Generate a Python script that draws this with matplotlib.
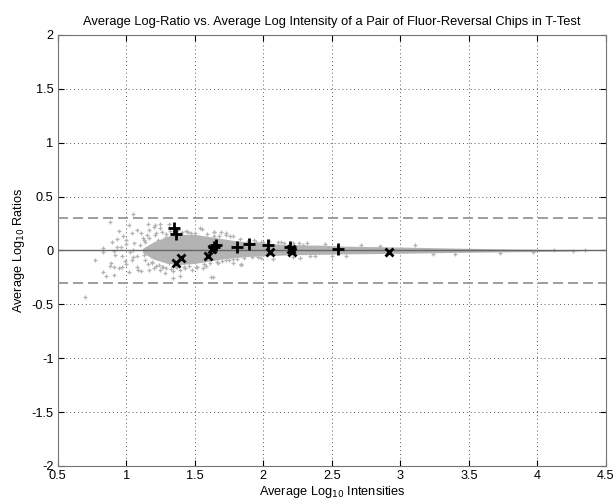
import matplotlib
matplotlib.use('Agg')
import matplotlib.pyplot as plt

plt.rcParams['font.family'] = ['Liberation Sans', 'DejaVu Sans']
plt.rcParams['font.size'] = 9.2

# dense core of the gray cloud (envelope)
core_x = [1.12, 1.20, 1.30, 1.40, 1.50, 1.60, 1.70, 1.80, 1.90, 2.00, 2.10, 2.20, 2.30,
          2.40, 2.50, 2.60, 2.80, 3.00, 3.20, 3.40, 3.60, 3.80, 4.00, 4.20, 4.32]
core_hi = [0.02, 0.08, 0.13, 0.15, 0.15, 0.13, 0.11, 0.09, 0.08, 0.07, 0.06, 0.055, 0.05,
           0.05, 0.045, 0.04, 0.036, 0.032, 0.027, 0.022, 0.018, 0.014, 0.011, 0.008, 0.003]
core_lo = [-0.02, -0.08, -0.12, -0.13, -0.12, -0.10, -0.08, -0.065, -0.055, -0.05, -0.045, -0.04, -0.038,
           -0.036, -0.034, -0.032, -0.029, -0.026, -0.022, -0.018, -0.015, -0.012, -0.01, -0.007, -0.003]

# scattered gray spots outside the core
spot_x = [1.05, 0.88, 1.02, 0.95, 1.04, 0.98, 0.90, 1.00, 0.83, 0.83, 0.93, 0.96, 0.91, 0.77,
          0.92, 0.89, 0.91, 0.88, 0.83, 0.85, 0.91, 0.95, 0.99, 1.00, 1.02, 1.04, 1.08, 1.09,
          1.11, 1.08, 1.05, 1.10, 1.13, 1.15, 1.20, 1.25, 1.31, 1.17, 1.22, 1.17, 1.20, 1.25,
          1.28, 1.16, 0.70, 1.08, 1.11, 1.06, 1.03, 0.97, 0.97, 1.14, 1.19, 1.24, 1.27, 1.34,
          1.39, 1.62, 1.34, 1.55, 1.64, 1.84, 1.78, 1.95, 2.11, 2.07, 1.21, 1.16, 1.25, 1.48,
          1.52, 1.56, 1.39, 1.67, 1.73, 1.69, 1.73, 1.64, 1.78, 1.88, 2.00, 2.22, 2.32, 1.78,
          1.98, 2.22, 1.54, 1.63, 1.84, 1.73, 1.76, 1.98, 1.64, 2.29, 3.11, 2.71, 2.27, 2.34,
          3.24, 3.73, 3.97, 4.26, 4.35, 4.12, 1.45, 1.50, 1.42, 1.58, 1.33, 1.36, 1.28, 1.31,
          2.45, 2.60, 2.85, 3.40, 2.90, 2.50, 2.15, 1.12, 1.18, 1.00, 1.05, 0.93,
          1.14, 1.17, 1.21, 1.23, 1.26, 1.29, 1.32, 1.35, 1.38, 1.41, 1.44, 1.47, 1.19, 1.22,
          1.26, 1.29, 1.33, 1.37, 1.43, 1.46, 1.51, 1.57, 1.61, 1.66, 1.70, 1.75, 1.81, 1.86,
          1.92, 1.96, 1.13, 1.18, 1.24, 1.30, 1.59, 1.68, 1.83, 1.93, 2.04, 2.13, 2.26, 2.38]
spot_y = [0.34, 0.26, 0.24, 0.18, 0.16, 0.135, 0.08, 0.10, 0.02, -0.01, 0.035, 0.03, -0.005, -0.09,
          -0.04, -0.12, -0.15, -0.145, -0.20, -0.235, -0.23, -0.165, -0.10, -0.13, -0.20, -0.09, -0.15, -0.18,
          -0.195, -0.055, 0.005, 0.05, 0.10, 0.145, 0.22, 0.245, 0.25, 0.19, 0.16, -0.18, -0.165, -0.18,
          -0.21, -0.125, -0.435, 0.19, 0.165, 0.065, -0.01, -0.055, -0.15, -0.09, -0.105, -0.135, -0.15, -0.195,
          -0.235, -0.25, -0.26, 0.20, 0.17, -0.13, -0.12, 0.08, 0.075, -0.08, 0.235, 0.25, 0.205, -0.18,
          -0.15, -0.165, -0.18, -0.12, -0.09, 0.175, 0.145, 0.13, 0.13, 0.08, 0.08, 0.07, 0.065, -0.08,
          -0.07, -0.065, 0.205, -0.25, -0.135, 0.16, 0.13, 0.08, 0.175, 0.05, 0.05, 0.05, -0.07, -0.055,
          -0.035, -0.025, -0.012, -0.002, 0.005, 0.0, 0.17, 0.16, -0.15, -0.14, 0.13, -0.15, 0.12, -0.12,
          0.06, -0.05, 0.045, -0.03, -0.04, -0.05, 0.07, 0.12, -0.05, 0.06, -0.06, 0.11,
          0.08, 0.12, 0.14, 0.10, 0.17, 0.15, 0.18, 0.16, 0.19, 0.17, 0.18, 0.16, -0.12, -0.14,
          -0.15, -0.16, -0.17, -0.15, -0.16, -0.14, -0.15, -0.13, -0.12, -0.11, -0.10, -0.09, -0.08, -0.07,
          -0.065, -0.06, -0.04, 0.04, 0.00, 0.12, 0.15, 0.13, 0.11, 0.10, 0.085, 0.075, 0.065, -0.05]

# highlighted genes (black)
plus_x = [1.350, 1.365, 1.640, 1.656, 1.812, 1.895, 2.031, 2.196, 2.545]
plus_y = [0.206, 0.150, 0.030, 0.051, 0.035, 0.057, 0.051, 0.035, 0.011]
cross_x = [1.362, 1.398, 1.596, 1.625, 2.046, 2.204, 2.213, 2.919]
cross_y = [-0.119, -0.072, -0.048, 0.011, -0.011, 0.011, -0.011, -0.011]

threshold = 0.3
xticks = [0.5, 1, 1.5, 2, 2.5, 3, 3.5, 4, 4.5]
yticks = [-2, -1.5, -1, -0.5, 0, 0.5, 1, 1.5, 2]

fig = plt.figure(figsize=(6.14, 5.01), dpi=100)
ax = fig.add_axes([0.0938, 0.0699, 0.8932, 0.8603])

gray = (0.70, 0.70, 0.70)
ax.fill_between(core_x, core_lo, core_hi, color=gray, lw=0, zorder=2)
ax.plot(spot_x, spot_y, ls='none', marker='+', ms=2.8, mew=0.9, color=gray, zorder=2)

ax.axhline(0, color=(0.4, 0.4, 0.4), lw=1.0, zorder=3)
for t in (threshold, -threshold):
    ax.axhline(t, color=(0.55, 0.55, 0.55), lw=1.2, ls=(0, (6, 3)), zorder=3)

ax.plot(plus_x, plus_y, ls='none', marker='+', ms=8, mew=2, color='black', zorder=4)
ax.plot(cross_x, cross_y, ls='none', marker='x', ms=6, mew=2, color='black', zorder=4)

ax.set_xlim(0.5, 4.5)
ax.set_ylim(-2, 2)
ax.set_xticks(xticks)
ax.set_yticks(yticks)
ax.set_xticklabels(['0.5', '1', '1.5', '2', '2.5', '3', '3.5', '4', '4.5'])
ax.set_yticklabels(['-2', '-1.5', '-1', '-0.5', '0', '0.5', '1', '1.5', '2'])
ax.grid(True, ls=(0, (1, 3)), color=(0.35, 0.35, 0.35), lw=0.7)
ax.set_axisbelow(True)
ax.tick_params(direction='in', length=4, top=True, right=True, pad=3, colors='black')
for s in ax.spines.values():
    s.set_color((0.45, 0.45, 0.45))
    s.set_linewidth(0.8)

ax.set_title('Average Log-Ratio vs. Average Log Intensity of a Pair of Fluor-Reversal Chips in T-Test',
             fontsize=9.3, pad=7)
ax.set_xlabel('Average Log$_{10}$ Intensities', labelpad=1)
ax.set_ylabel('Average Log$_{10}$ Ratios', labelpad=3)

fig.savefig('out.png', dpi=100)
